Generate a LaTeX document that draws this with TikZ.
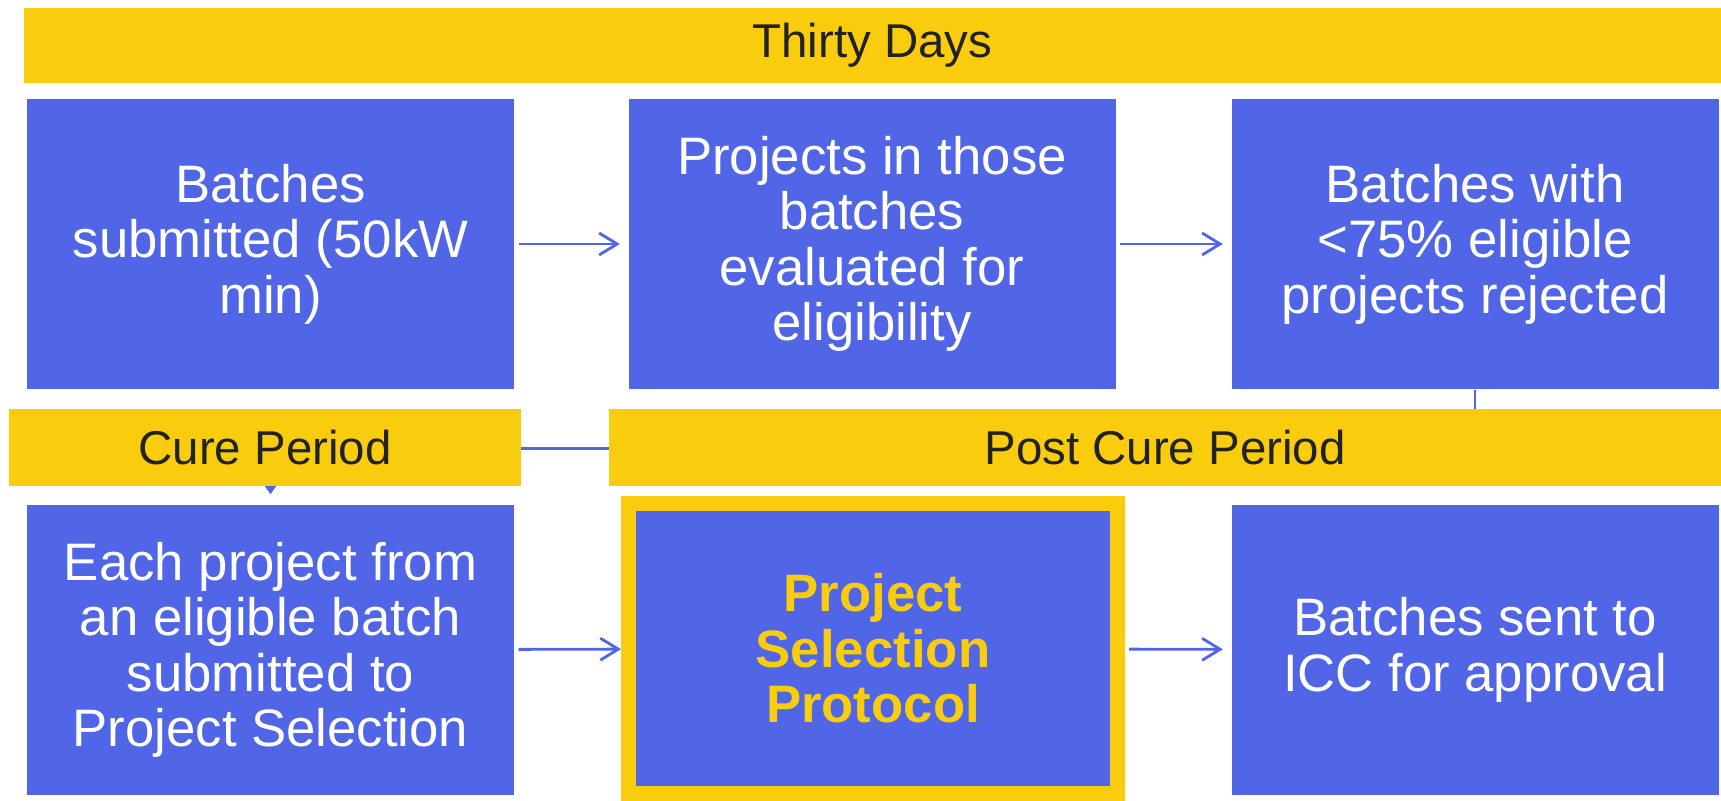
\documentclass[tikz,border=0pt]{standalone}
\usepackage{fontspec}
\setmainfont{Liberation Sans}
\usepackage{tikz}
\usetikzlibrary{arrows.meta}
\definecolor{boxblue}{RGB}{80,102,230}
\definecolor{baryellow}{RGB}{249,205,14}
\definecolor{bartext}{RGB}{34,34,34}

\begin{document}
\begin{tikzpicture}[
  stepbox/.style={fill=boxblue, text=white, align=center, inner sep=0pt,
    minimum width=4.87cm, minimum height=2.90cm,
    font=\fontsize{15pt}{15.8pt}\selectfont},
  bar/.style={fill=baryellow, text=bartext, inner sep=0pt,
    font=\fontsize{13.5pt}{16pt}\selectfont},
  flow/.style={draw=boxblue, line width=0.8pt,
    -{Straight Barb[length=1.8mm,width=2.2mm]},
    shorten <=0.04cm, shorten >=0.08cm}]
\useasboundingbox (0,0) rectangle (17.21,-8.01);

% first row
\node[stepbox] (submit) at (2.705,-2.44) {Batches\\submitted (50kW\\min)};
\node[stepbox] (evaluate) at (8.72,-2.44) {Projects in those\\batches\\evaluated for\\eligibility};
\node[stepbox] (reject) at (14.75,-2.44) {Batches with\\<75\% eligible\\projects rejected};

% second row
\node[stepbox] (entry) at (2.705,-6.50) {Each project from\\an eligible batch\\submitted to\\Project Selection};
\node[stepbox, draw=baryellow, line width=0.15cm, minimum width=4.89cm,
  text=baryellow, font=\fontsize{15pt}{15.8pt}\selectfont\bfseries]
  (protocol) at (8.73,-6.485) {Project\\Selection\\Protocol};
\node[stepbox] (approval) at (14.75,-6.50) {Batches sent to\\ICC for approval};

\draw[flow] (submit) -- (evaluate);
\draw[flow] (evaluate) -- (reject);
\draw[flow, shorten >=0pt] (entry) -- (protocol);
\draw[flow] (protocol) -- (approval);

% back to the cure period
\draw[boxblue, line width=0.8pt, -{Triangle[length=1.2mm,width=1.6mm]},
  shorten >=0.1cm] (reject.south) -- ++(0,-0.59) -| (entry.north);

% period bars
\node[bar, minimum width=16.97cm, minimum height=0.75cm] (days) at (8.725,-0.455) {Thirty Days};
\node[bar, minimum width=5.12cm, minimum height=0.77cm] (cure) at (2.65,-4.475) {Cure Period};
\node[bar, minimum width=11.12cm, minimum height=0.77cm] (postcure) at (11.65,-4.475) {Post Cure Period};
\end{tikzpicture}
\end{document}
